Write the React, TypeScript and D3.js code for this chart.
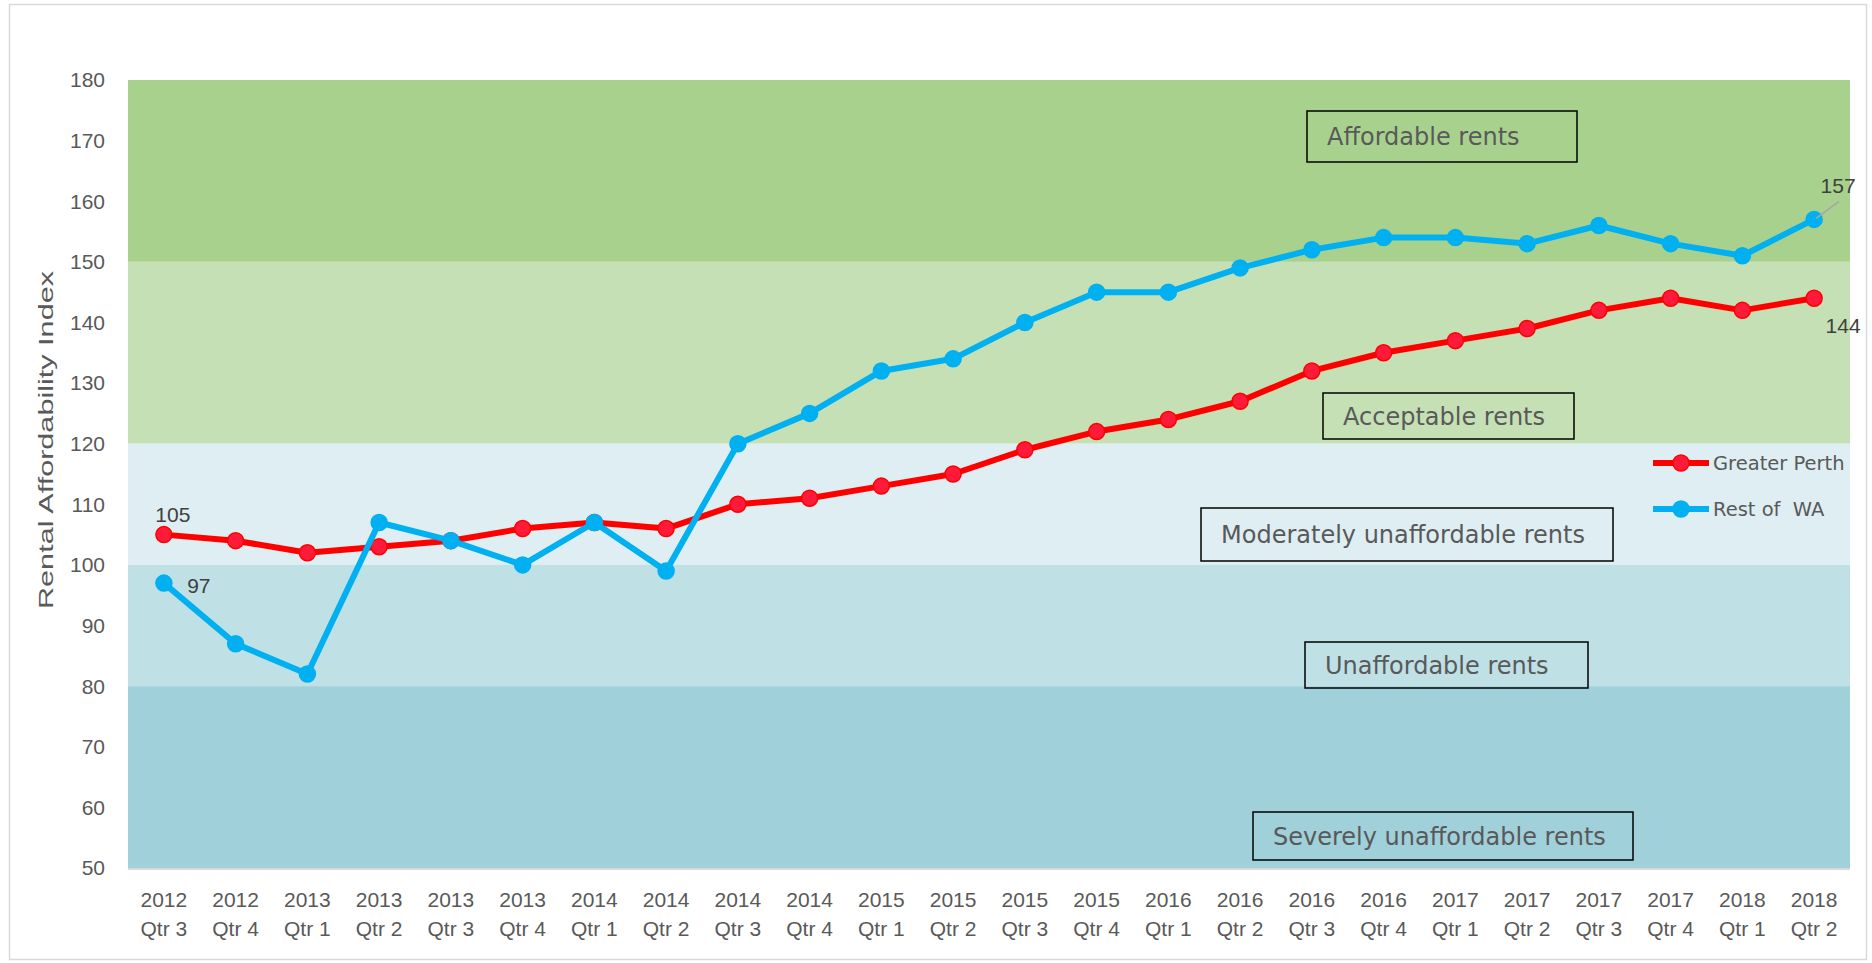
import React from 'react';
import * as d3 from 'd3';

// quarters on the x axis
const years = ['2012', '2012', '2013', '2013', '2013', '2013', '2014', '2014', '2014', '2014', '2015', '2015',
  '2015', '2015', '2016', '2016', '2016', '2016', '2017', '2017', '2017', '2017', '2018', '2018'];
const quarters = ['Qtr 3', 'Qtr 4', 'Qtr 1', 'Qtr 2', 'Qtr 3', 'Qtr 4', 'Qtr 1', 'Qtr 2', 'Qtr 3', 'Qtr 4', 'Qtr 1', 'Qtr 2',
  'Qtr 3', 'Qtr 4', 'Qtr 1', 'Qtr 2', 'Qtr 3', 'Qtr 4', 'Qtr 1', 'Qtr 2', 'Qtr 3', 'Qtr 4', 'Qtr 1', 'Qtr 2'];

const greaterPerth = [105, 104, 102, 103, 104, 106, 107, 106, 110, 111, 113, 115, 119, 122, 124, 127, 132, 135, 137, 139, 142, 144, 142, 144];
const restOfWA = [97, 87, 82, 107, 104, 100, 107, 99, 120, 125, 132, 134, 140, 145, 145, 149, 152, 154, 154, 153, 156, 153, 151, 157];

const yTicks = [50, 60, 70, 80, 90, 100, 110, 120, 130, 140, 150, 160, 170, 180];

// affordability bands: [from, to]
const bandRanges = [[150, 180], [120, 150], [100, 120], [80, 100], [50, 80]];
const bandColors = ['#a9d18e', '#c5e0b4', '#deeef2', '#bfe0e5', '#a0d0da'];
const bandNames = ['Affordable rents', 'Acceptable rents', 'Moderately unaffordable rents', 'Unaffordable rents', 'Severely unaffordable rents'];
// annotation box placement in pixels: [x0, y0, x1, y1]
const bandBoxes = [[1307, 111, 1577, 162], [1323, 393, 1574, 439], [1201, 508, 1613, 561], [1305, 642, 1588, 688], [1253, 812, 1633, 860]];

const W = 1872;
const H = 963;
const m = { left: 128, right: 22, top: 80, bottom: 95 };

const textColor = '#595959';
const red = '#ff0000';
const redMarker = '#ff1a3a';
const blue = '#00b0f0';

export default function App() {
  const idx = d3.range(years.length);
  const x = d3.scaleBand<number>().domain(idx).range([m.left, W - m.right]);
  const cx = (i: number) => (x(i) as number) + x.bandwidth() / 2;
  const y = d3.scaleLinear().domain([50, 180]).range([H - m.bottom, m.top]);

  const line = d3.line<number>().x((_, i) => cx(i)).y(d => y(d));

  const series = [
    { name: 'Greater Perth', values: greaterPerth, stroke: red, fill: redMarker },
    { name: 'Rest of  WA', values: restOfWA, stroke: blue, fill: blue },
  ];

  const lastI = years.length - 1;

  return (
    <div style={{ position: 'absolute', left: 0, top: 0 }}>
      <svg width={W} height={H} style={{ display: 'block', fontFamily: 'Liberation Sans, Arial, sans-serif' }}>
        <rect x={0} y={0} width={W} height={H} fill="#fff" />
        <rect x={9.5} y={4.5} width={W - 15} height={H - 8} fill="none" stroke="#d9d9d9" strokeWidth={1.5} />

        {bandRanges.map(([a, b], i) => (
          <rect key={i} x={m.left} y={y(b)} width={W - m.right - m.left} height={y(a) - y(b)} fill={bandColors[i]} />
        ))}
        <line x1={m.left} x2={W - m.right} y1={y(50) + 1} y2={y(50) + 1} stroke="#d9d9d9" strokeWidth={2} />

        {bandBoxes.map(([x0, y0, x1, y1], i) => (
          <g key={i}>
            <rect x={x0} y={y0} width={x1 - x0} height={y1 - y0} fill="none" stroke="#000" strokeWidth={1.5} />
            <text x={x0 + 20} y={(y0 + y1) / 2} dy="0.36em" fontSize={24} fill={textColor}
              style={{ fontFamily: 'DejaVu Sans, sans-serif' }}>{bandNames[i]}</text>
          </g>
        ))}

        {yTicks.map(t => (
          <text key={t} x={105} y={y(t)} dy="0.35em" textAnchor="end" fontSize={21} fill={textColor}>{t}</text>
        ))}

        <text transform="translate(53,440) rotate(-90)" textAnchor="middle" fontSize={21}
          fill={textColor} textLength={338} lengthAdjust="spacingAndGlyphs">Rental Affordability Index</text>

        {idx.map(i => (
          <text key={i} x={cx(i)} textAnchor="middle" fontSize={21} fill={textColor}>
            <tspan x={cx(i)} y={907}>{years[i]}</tspan>
            <tspan x={cx(i)} y={936}>{quarters[i]}</tspan>
          </text>
        ))}

        {series.map(s => (
          <g key={s.name}>
            <path d={line(s.values) || ''} fill="none" stroke={s.stroke} strokeWidth={6} strokeLinejoin="round" />
            {s.values.map((v, i) => (
              <circle key={i} cx={cx(i)} cy={y(v)} r={8} fill={s.fill} stroke={s.stroke} strokeWidth={1.5} />
            ))}
          </g>
        ))}

        {/* data labels */}
        <text x={cx(0) + 9} y={y(greaterPerth[0]) - 20} dy="0.35em" textAnchor="middle" fontSize={21} fill="#404040">{greaterPerth[0]}</text>
        <text x={cx(0) + 35} y={y(restOfWA[0]) + 3} dy="0.35em" textAnchor="middle" fontSize={21} fill="#404040">{restOfWA[0]}</text>
        <line x1={cx(lastI) + 2} y1={y(restOfWA[lastI]) - 1} x2={cx(lastI) + 25} y2={y(restOfWA[lastI]) - 18} stroke="#a6a6a6" strokeWidth={1.5} />
        <text x={cx(lastI) + 24} y={y(restOfWA[lastI]) - 34} dy="0.35em" textAnchor="middle" fontSize={21} fill="#404040">{restOfWA[lastI]}</text>
        <text x={cx(lastI) + 29} y={y(greaterPerth[lastI]) + 27} dy="0.35em" textAnchor="middle" fontSize={21} fill="#404040">{greaterPerth[lastI]}</text>

        {/* legend */}
        {series.map((s, i) => (
          <g key={s.name} transform={`translate(1653,${463 + i * 46})`}>
            <line x1={0} x2={56} y1={0} y2={0} stroke={s.stroke} strokeWidth={6} />
            <circle cx={28} cy={0} r={8} fill={s.fill} stroke={s.stroke} strokeWidth={1.5} />
            <text x={60} y={0} dy="0.36em" fontSize={19.5} fill={textColor}
              style={{ fontFamily: 'DejaVu Sans, sans-serif', whiteSpace: 'pre' }}>{s.name}</text>
          </g>
        ))}
      </svg>
    </div>
  );
}
